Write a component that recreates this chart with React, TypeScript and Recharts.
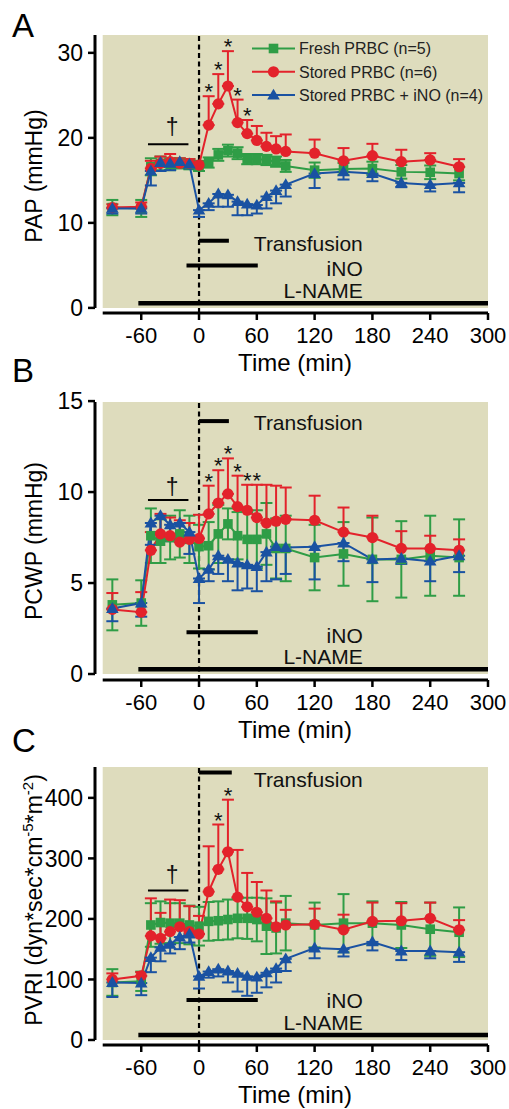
import React from 'react'
import {
  ComposedChart,
  Line,
  ErrorBar,
  Scatter,
  XAxis,
  YAxis,
  ReferenceArea,
  ReferenceLine,
  ReferenceDot,
} from 'recharts'

const FONT = '"Liberation Sans", Arial, Helvetica, sans-serif'
const GREEN = '#2F9D46'
const RED = '#E3222B'
const BLUE = '#1A52A2'
const BG = '#DEDCBD'

// time points (min)
const TIME = [-90, -60, -50, -40, -30, -20, -10, 0, 10, 20, 30, 40, 50, 60, 70, 80, 90, 120, 150, 180, 210, 240, 270]
const TIME_TICKS = [-60, 0, 60, 120, 180, 240, 300]

// A: PAP (mmHg)
const PAP_FRESH = [11.8, 11.7, 16.6, 17.0, 16.9, 17.0, 16.9, 16.7, 17.1, 18.0, 18.5, 18.2, 17.5, 17.5, 17.4, 17.2, 16.7, 16.2, 16.35, 16.4, 16.0, 15.95, 15.8]
const PAP_FRESH_SE = [0.9, 1.0, 1.0, 0.8, 0.7, 0.6, 0.6, 0.6, 0.6, 0.7, 0.7, 0.7, 0.6, 0.6, 0.6, 0.6, 0.7, 0.9, 0.7, 0.8, 0.8, 0.8, 0.8]
const PAP_STORED = [11.8, 11.9, 16.4, 17.0, 17.2, 17.0, 17.0, 16.8, 21.5, 24.0, 26.1, 21.8, 20.5, 19.7, 19.0, 18.7, 18.4, 18.2, 17.3, 17.9, 17.2, 17.4, 16.6]
const PAP_STORED_SE = [0.4, 0.5, 0.9, 0.8, 0.9, 0.6, 0.5, 0.4, 3.4, 3.5, 4.1, 2.7, 1.6, 1.7, 1.6, 1.5, 2.0, 1.6, 1.5, 1.4, 1.4, 0.8, 0.9]
const PAP_INO = [11.7, 11.7, 16.1, 17.1, 17.0, 17.2, 16.9, 11.5, 12.3, 13.4, 13.3, 12.5, 12.2, 12.1, 13.1, 13.8, 14.5, 15.8, 16.0, 15.8, 14.7, 14.5, 14.7]
const PAP_INO_SE = [0.6, 0.6, 1.7, 1.0, 0.8, 0.6, 0.5, 0.8, 0.8, 1.5, 1.4, 1.6, 1.3, 1.0, 1.4, 1.5, 1.4, 1.7, 0.9, 0.9, 0.5, 0.8, 1.1]
const PAP_STARS = [10, 20, 30, 40, 50]
const PAP_TICKS = [0, 10, 20, 30]

// B: PCWP (mmHg)
const PCWP_FRESH = [3.8, 3.9, 7.6, 7.3, 7.5, 7.7, 7.4, 7.0, 7.05, 7.7, 8.25, 7.6, 7.4, 7.4, 7.7, 6.9, 6.9, 6.4, 6.6, 6.3, 6.3, 6.5, 6.4]
const PCWP_FRESH_SE = [1.4, 1.25, 1.5, 1.2, 1.2, 1.3, 1.3, 1.2, 1.3, 1.6, 0.85, 1.3, 1.5, 1.6, 1.7, 1.65, 1.8, 1.8, 1.75, 2.3, 2.1, 2.2, 2.1]
const PCWP_STORED = [3.55, 3.4, 6.8, 7.7, 7.6, 7.25, 7.4, 7.45, 8.8, 9.4, 9.9, 9.2, 9.0, 8.6, 8.3, 8.4, 8.5, 8.45, 7.8, 7.5, 6.9, 6.9, 6.8]
const PCWP_STORED_SE = [0.9, 1.1, 1.0, 1.1, 1.0, 1.2, 0.9, 1.3, 1.55, 1.8, 1.95, 1.7, 1.4, 1.8, 2.1, 1.95, 1.75, 1.35, 1.35, 1.2, 0.95, 0.7, 0.6]
const PCWP_INO = [3.6, 3.9, 8.3, 8.7, 8.2, 8.3, 7.8, 5.25, 5.75, 6.5, 6.3, 6.1, 6.0, 5.9, 6.7, 7.0, 6.95, 7.0, 7.2, 6.3, 6.35, 6.2, 6.5]
const PCWP_INO_SE = [0.7, 0.75, 1.2, 1.0, 0.9, 0.9, 1.2, 1.35, 0.65, 1.0, 1.2, 1.5, 1.3, 1.35, 1.6, 1.8, 1.45, 1.8, 1.0, 1.25, 0.3, 1.1, 0.9]
const PCWP_STARS = [10, 20, 30, 40, 50, 60]
const PCWP_TICKS = [0, 5, 10, 15]

// C: PVRI (dyn*sec*cm-5*m-2)
const PVRI_FRESH = [95, 97, 190, 194, 193, 193, 190, 188, 196, 197, 199, 201, 201, 199, 188, 185, 193, 190, 193, 193, 190, 183, 178]
const PVRI_FRESH_SE = [22, 16, 36, 35, 33, 33, 32, 32, 32, 32, 33, 33, 34, 36, 46, 42, 45, 37, 48, 36, 38, 44, 41]
const PVRI_STORED = [100, 106, 172, 168, 179, 187, 179, 175, 245, 282, 311, 236, 220, 211, 201, 187, 190, 191, 182, 196, 197, 201, 182]
const PVRI_STORED_SE = [10, 6, 62, 42, 53, 44, 42, 30, 75, 74, 86, 78, 56, 50, 46, 42, 25, 26, 25, 31, 29, 26, 16]
const PVRI_INO = [95, 94, 136, 153, 158, 170, 175, 105, 113, 117, 114, 110, 105, 104, 111, 118, 134, 152, 150, 162, 147, 147, 145]
const PVRI_INO_SE = [24, 20, 24, 23, 15, 20, 14, 20, 10, 12, 19, 30, 32, 26, 24, 23, 20, 17, 12, 14, 15, 12, 16]
const PVRI_STARS = [20, 30]
const PVRI_TICKS = [0, 100, 200, 300, 400]

const SERIES = [
  { key: 'fresh', name: 'Fresh PRBC (n=5)', color: GREEN, shape: 'square' },
  { key: 'stored', name: 'Stored PRBC (n=6)', color: RED, shape: 'circle' },
  { key: 'ino', name: 'Stored PRBC + iNO (n=4)', color: BLUE, shape: 'triangle' },
]

// x domain starts left of -100 so the axes sit apart from the shaded box
const X_MIN = -108
const X_BOX = -100
const X_MAX = 300

function buildRows(fresh: number[], freshSe: number[], stored: number[], storedSe: number[], ino: number[], inoSe: number[]) {
  return TIME.map((t, i) => ({
    t,
    fresh: fresh[i],
    freshErr: freshSe[i],
    stored: stored[i],
    storedErr: [0, storedSe[i]],
    ino: ino[i],
    inoErr: [inoSe[i], 0],
  }))
}

function starRows(rows: any[], times: number[]) {
  return rows.filter((r) => times.includes(r.t)).map((r) => ({ t: r.t, y: r.stored + r.storedErr[1] }))
}

function Marker({ shape, cx, cy, color }: any) {
  if (cx == null || cy == null) return null
  if (shape === 'square') return <rect x={cx - 4.8} y={cy - 4.8} width={9.6} height={9.6} fill={color} />
  if (shape === 'circle') return <circle cx={cx} cy={cy} r={5.6} fill={color} />
  return <path d={`M${cx},${cy - 6.4}L${cx + 6.3},${cy + 4.4}L${cx - 6.3},${cy + 4.4}Z`} fill={color} />
}

// legend drawn as an overlay in the top-right of panel A
function LegendBox() {
  return (
    <svg width={258} height={72} style={{ position: 'absolute', left: 251, top: 37, overflow: 'visible' }}>
      {SERIES.map((s, i) => {
        const y = 11.5 + i * 23.3
        return (
          <g key={s.key}>
            <line x1={1} y1={y} x2={44} y2={y} stroke={s.color} strokeWidth={2} />
            <Marker shape={s.shape} cx={22.5} cy={y} color={s.color} />
            <text x={48} y={y} dy="0.36em" fontSize={16} fontFamily={FONT} fill="#222">
              {s.name}
            </text>
          </g>
        )
      })}
    </svg>
  )
}

function textShape(text: string, anchor: 'start' | 'middle' | 'end', size: number, dy = '0.36em') {
  return (p: any) => (
    <text x={p.cx} y={p.cy} dy={dy} textAnchor={anchor} fontSize={size} fontFamily={FONT} fill="#111">
      {text}
    </text>
  )
}

interface Notes {
  dagger: number
  daggerText: number
  transfusion: number
  transfusionEnd: number
  transfusionText: number
  ino: number
  inoText: number
  lname: number
  lnameText: number
}

interface PanelProps {
  top: number
  letter: string
  letterBaseline: number
  rows: any[]
  stars: any[]
  yDomain: [number, number]
  yTicks: number[]
  yTitle: React.ReactNode
  yTitleShift: number
  notes: Notes
  legend?: boolean
}

function Panel({ top, letter, letterBaseline, rows, stars, yDomain, yTicks, yTitle, yTitleShift, notes, legend }: PanelProps) {
  const [yMin, yMax] = yDomain
  return (
    <div style={{ position: 'absolute', left: 0, top }}>
      <ComposedChart width={509} height={400} data={rows} margin={{ top: 35, right: 21, bottom: 30, left: 0 }}>
        <ReferenceArea x1={X_BOX} x2={X_MAX} y1={0} y2={yMax} fill={BG} fillOpacity={1} stroke="none" ifOverflow="visible" />
        <XAxis
          type="number"
          dataKey="t"
          domain={[X_MIN, X_MAX]}
          ticks={TIME_TICKS}
          interval={0}
          allowDataOverflow
          height={57}
          axisLine={false}
          tickLine={{ stroke: '#000', strokeWidth: 2.5 }}
          tickSize={7}
          tickMargin={7}
          tick={{ fill: '#000', fontSize: 22, fontFamily: FONT }}
          label={(p: any) => {
            const vb = p.viewBox
            return (
              <text x={vb.x + vb.width / 2 + 3.5} y={vb.y + 58} textAnchor="middle" fontSize={24} fontFamily={FONT} fill="#000">
                Time (min)
              </text>
            )
          }}
        />
        <YAxis
          type="number"
          domain={yDomain}
          ticks={yTicks}
          interval={0}
          allowDataOverflow
          width={95}
          axisLine={false}
          tickLine={{ stroke: '#000', strokeWidth: 2.5 }}
          tickSize={7}
          tickMargin={5}
          tick={{ fill: '#000', fontSize: 23, fontFamily: FONT }}
          label={(p: any) => {
            const vb = p.viewBox
            const cy = vb.y + vb.height / 2 + yTitleShift
            return (
              <text transform={`translate(42, ${cy}) rotate(-90)`} textAnchor="middle" fontSize={23} fontFamily={FONT} fill="#000">
                {yTitle}
              </text>
            )
          }}
        />
        <ReferenceLine segment={[{ x: X_MIN, y: 0 }, { x: X_MIN, y: yMax }]} stroke="#000" strokeWidth={3} ifOverflow="visible" />
        <ReferenceLine segment={[{ x: X_BOX, y: yMin }, { x: X_MAX, y: yMin }]} stroke="#000" strokeWidth={3} ifOverflow="visible" />
        <ReferenceLine x={0} stroke="#000" strokeWidth={2.2} strokeDasharray="5 3.5" />

        {/* protocol bars */}
        <ReferenceLine segment={[{ x: 0, y: notes.transfusion }, { x: notes.transfusionEnd, y: notes.transfusion }]} stroke="#000" strokeWidth={4} ifOverflow="visible" />
        <ReferenceLine segment={[{ x: -13, y: notes.ino }, { x: 61, y: notes.ino }]} stroke="#000" strokeWidth={4} ifOverflow="visible" />
        <ReferenceLine segment={[{ x: -63, y: notes.lname }, { x: X_MAX, y: notes.lname }]} stroke="#000" strokeWidth={4.5} ifOverflow="visible" />
        <ReferenceDot x={170} y={notes.transfusionText} r={1} ifOverflow="visible" shape={textShape('Transfusion', 'end', 21)} />
        <ReferenceDot x={170} y={notes.inoText} r={1} ifOverflow="visible" shape={textShape('iNO', 'end', 21)} />
        <ReferenceDot x={170} y={notes.lnameText} r={1} ifOverflow="visible" shape={textShape('L-NAME', 'end', 21)} />

        {/* dagger: baseline vs -60 */}
        <ReferenceLine segment={[{ x: -53, y: notes.dagger }, { x: -11, y: notes.dagger }]} stroke="#000" strokeWidth={2} ifOverflow="visible" />
        <ReferenceDot x={-28} y={notes.daggerText} r={1} ifOverflow="visible" shape={textShape('\u2020', 'middle', 23, '0.3em')} />

        {SERIES.map((s) => (
          <Line
            key={s.key}
            type="linear"
            dataKey={s.key}
            name={s.name}
            stroke={s.color}
            strokeWidth={2}
            isAnimationActive={false}
            activeDot={false}
            dot={(p: any) => <Marker key={`${s.key}-${p.index}`} shape={s.shape} cx={p.cx} cy={p.cy} color={s.color} />}
          >
            <ErrorBar dataKey={`${s.key}Err`} direction="y" width={6} stroke={s.color} strokeWidth={2} />
          </Line>
        ))}

        <Scatter
          data={stars}
          dataKey="y"
          isAnimationActive={false}
          legendType="none"
          shape={(p: any) => (
            <text x={p.cx} y={p.cy + 3} textAnchor="middle" fontSize={22} fontFamily={FONT} fill="#111">
              *
            </text>
          )}
        />
      </ComposedChart>
      {legend && <LegendBox />}
      <svg width={60} height={50} style={{ position: 'absolute', left: 0, top: letterBaseline - top - 40 }}>
        <text x={12} y={40} fontSize={33} fontFamily={FONT} fill="#000">
          {letter}
        </text>
      </svg>
    </div>
  )
}

const papRows = buildRows(PAP_FRESH, PAP_FRESH_SE, PAP_STORED, PAP_STORED_SE, PAP_INO, PAP_INO_SE)
const pcwpRows = buildRows(PCWP_FRESH, PCWP_FRESH_SE, PCWP_STORED, PCWP_STORED_SE, PCWP_INO, PCWP_INO_SE)
const pvriRows = buildRows(PVRI_FRESH, PVRI_FRESH_SE, PVRI_STORED, PVRI_STORED_SE, PVRI_INO, PVRI_INO_SE)

export default function App() {
  return (
    <div style={{ position: 'absolute', left: 0, top: 0, width: 509, height: 1109, background: '#fff', overflow: 'hidden' }}>
      <Panel
        top={0}
        letter="A"
        letterBaseline={37}
        rows={papRows}
        stars={starRows(papRows, PAP_STARS)}
        yDomain={[-0.6, 32.1]}
        yTicks={PAP_TICKS}
        yTitle="PAP (mmHg)"
        yTitleShift={2}
        legend
        notes={{ dagger: 19.25, daggerText: 21.2, transfusion: 7.9, transfusionEnd: 31, transfusionText: 7.6, ino: 5.0, inoText: 4.7, lname: 0.55, lnameText: 2.0 }}
      />
      <Panel
        top={367}
        letter="B"
        letterBaseline={382}
        rows={pcwpRows}
        stars={starRows(pcwpRows, PCWP_STARS)}
        yDomain={[-0.33, 14.95]}
        yTicks={PCWP_TICKS}
        yTitle="PCWP (mmHg)"
        yTitleShift={0}
        notes={{ dagger: 9.56, daggerText: 10.2, transfusion: 13.9, transfusionEnd: 31, transfusionText: 13.83, ino: 2.3, inoText: 2.14, lname: 0.26, lnameText: 0.99 }}
      />
      <Panel
        top={732}
        letter="C"
        letterBaseline={752}
        rows={pvriRows}
        stars={starRows(pvriRows, PVRI_STARS)}
        yDomain={[-8.3, 451]}
        yTicks={PVRI_TICKS}
        yTitle={
          <>
            PVRI (dyn*sec*cm
            <tspan fontSize={15} dy={-9}>-5</tspan>
            <tspan dy={9}>*m</tspan>
            <tspan fontSize={15} dy={-9}>-2</tspan>
            <tspan dy={9}>)</tspan>
          </>
        }
        yTitleShift={-6}
        notes={{ dagger: 247, daggerText: 270, transfusion: 442, transfusionEnd: 34, transfusionText: 431, ino: 66, inoText: 65, lname: 8.3, lnameText: 28.6 }}
      />
    </div>
  )
}
